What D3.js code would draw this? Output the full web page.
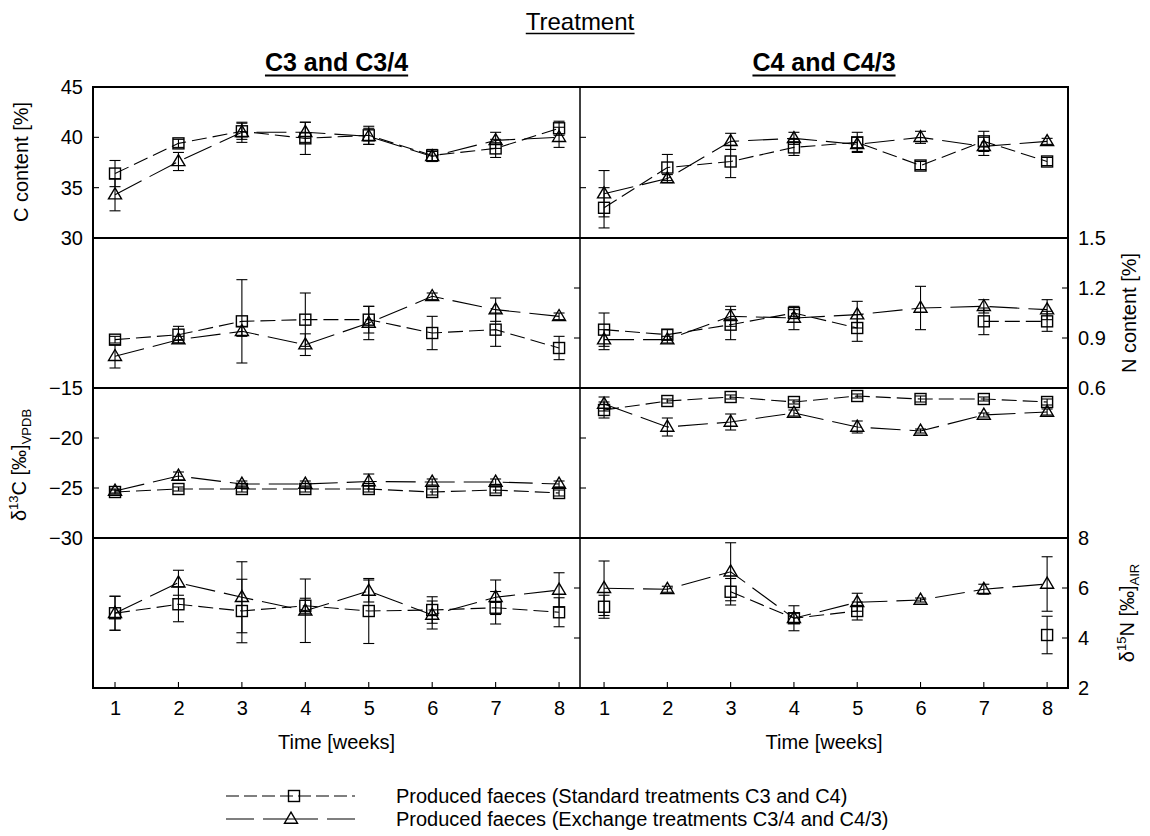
<!DOCTYPE html>
<html><head><meta charset="utf-8">
<script src="https://cdn.jsdelivr.net/npm/d3@7"></script>
<style>
html,body{margin:0;padding:0;background:#fff;}
svg{display:block;font-family:"Liberation Sans",Arial,sans-serif;}
</style></head>
<body><svg id="chart" width="1150" height="836"></svg>
<script>
// ---------- DATA ----------
const weeks = [1,2,3,4,5,6,7,8];
const xTicks = [1,2,3,4,5,6,7,8];

// C content [%]
const cStdC3 = [36.4, 39.4, 40.6, 39.9, 40.2, 38.2, 38.9, 40.9];
const cStdC3Err = [1.3, 0.4, 0.8, 1.6, 0.9, 0.6, 0.9, 0.7];
const cExC3 = [34.3, 37.6, 40.5, 40.5, 40.1, 38.1, 39.7, 40.0];
const cExC3Err = [1.6, 0.9, 1.0, 1.0, 0.8, 0.5, 0.8, 1.0];
const cStdC4 = [33.0, 37.0, 37.6, 39.0, 39.5, 37.2, 39.6, 37.6];
const cStdC4Err = [2.0, 1.3, 1.6, 0.8, 1.0, 0.4, 1.0, 0.4];
const cExC4 = [34.4, 35.9, 39.6, 39.9, 39.3, 40.0, 39.1, 39.6];
const cExC4Err = [2.3, 0.4, 0.8, 0.6, 0.7, 0.6, 0.9, 0.3];

// N content [%]
const nStdC3 = [0.89, 0.92, 1.00, 1.01, 1.01, 0.93, 0.95, 0.84];
const nStdC3Err = [0.02, 0.05, 0.25, 0.16, 0.08, 0.10, 0.10, 0.07];
const nExC3 = [0.79, 0.89, 0.94, 0.86, 0.99, 1.15, 1.07, 1.03];
const nExC3Err = [0.07, 0.02, 0.03, 0.065, 0.10, 0.02, 0.07, 0.02];
const nStdC4 = [0.95, 0.92, 0.98, 1.05, 0.96, null, 1.00, 1.00];
const nStdC4Err = [0.10, 0.03, 0.09, 0.02, 0.08, null, 0.08, 0.06];
const nExC4 = [0.89, 0.89, 1.03, 1.02, 1.04, 1.08, 1.09, 1.07];
const nExC4Err = [0.06, 0.02, 0.06, 0.07, 0.08, 0.13, 0.04, 0.06];

// δ13C [‰] VPDB
const d13StdC3 = [-25.4, -25.1, -25.1, -25.1, -25.1, -25.4, -25.2, -25.5];
const d13StdC3Err = [0.2, 0.2, 0.3, 0.3, 0.3, 0.3, 0.3, 0.3];
const d13ExC3 = [-25.3, -23.8, -24.6, -24.6, -24.35, -24.4, -24.4, -24.6];
const d13ExC3Err = [0.2, 0.4, 0.3, 0.3, 0.75, 0.3, 0.3, 0.3];
const d13StdC4 = [-17.2, -16.3, -15.9, -16.4, -15.8, -16.1, -16.1, -16.4];
const d13StdC4Err = [0.8, 0.2, 0.2, 0.2, 0.2, 0.3, 0.2, 0.3];
const d13ExC4 = [-16.6, -18.9, -18.4, -17.5, -18.9, -19.3, -17.7, -17.4];
const d13ExC4Err = [0.7, 0.9, 0.8, 0.3, 0.6, 0.2, 0.2, 0.3];

// δ15N [‰] AIR
const d15StdC3 = [4.99, 5.35, 5.08, 5.29, 5.08, 5.12, 5.21, 5.03];
const d15StdC3Err = [0.68, 0.70, 1.27, 0.3, 1.3, 0.53, 0.65, 0.58];
const d15ExC3 = [4.99, 6.21, 5.63, 5.09, 5.88, 4.92, 5.63, 5.92];
const d15ExC3Err = [0.68, 0.5, 1.42, 1.27, 0.44, 0.56, 0.69, 0.69];
const d15StdC4 = [5.25, null, 5.85, 4.79, 5.08, null, null, 4.12];
const d15StdC4Err = [0.46, null, 0.53, 0.2, 0.36, null, null, 0.75];
const d15ExC4 = [5.99, 5.95, 6.65, 4.79, 5.43, 5.52, 5.95, 6.16];
const d15ExC4Err = [1.09, 0.12, 1.16, 0.5, 0.36, 0.08, 0.2, 1.09];

// tick labels
const cTicks = [30, 35, 40, 45];
const nTicks = [0.6, 0.9, 1.2, 1.5];
const d13Ticks = [-30, -25, -20, -15];
const d15Ticks = [2, 4, 6, 8];

const panelTitles = ["C3 and C3/4", "C4 and C4/3"];
const legendLabels = ["Produced faeces (Standard treatments C3 and C4)",
                      "Produced faeces (Exchange treatments C3/4 and C4/3)"];

// ---------- LAYOUT ----------
const svg = d3.select("#chart");
const L = 93, M = 580, R = 1068;
const rowTops = [87, 238, 388, 538, 688];
const font = "'Liberation Sans', Arial, sans-serif";
const tickFs = 20, titleFs = 20;

const xLeft = d3.scaleLinear().domain([0.653, 8.33]).range([L, M]);
const xRight = d3.scaleLinear().domain([0.62, 8.33]).range([M, R]);

const rows = [
  {domain:[30,45], ticks:cTicks, side:"left", fmt:d3.format("d"),
   data:[[cStdC3,cStdC3Err,cExC3,cExC3Err],[cStdC4,cStdC4Err,cExC4,cExC4Err]]},
  {domain:[0.6,1.5], ticks:nTicks, side:"right", fmt:d3.format(".1f"),
   data:[[nStdC3,nStdC3Err,nExC3,nExC3Err],[nStdC4,nStdC4Err,nExC4,nExC4Err]]},
  {domain:[-30,-15], ticks:d13Ticks, side:"left", fmt:d3.format("d"),
   data:[[d13StdC3,d13StdC3Err,d13ExC3,d13ExC3Err],[d13StdC4,d13StdC4Err,d13ExC4,d13ExC4Err]]},
  {domain:[2,8], ticks:d15Ticks, side:"right", fmt:d3.format("d"),
   data:[[d15StdC3,d15StdC3Err,d15ExC3,d15ExC3Err],[d15StdC4,d15StdC4Err,d15ExC4,d15ExC4Err]]}
];

const stdDash = "15,6";
const exDash = "30,9";

function drawSquare(g, x, y) {
  g.append("rect").attr("x", x-5.5).attr("y", y-5.5).attr("width", 11).attr("height", 11)
    .attr("fill","none").attr("stroke","#000").attr("stroke-width",1.4);
}
function drawTriangle(g, x, y) {
  const h = 11, w = 13;
  g.append("path").attr("d", `M${x},${y-h*0.62}L${x+w/2},${y+h*0.38}L${x-w/2},${y+h*0.38}Z`)
    .attr("fill","none").attr("stroke","#000").attr("stroke-width",1.4);
}

rows.forEach((row, ri) => {
  const y0 = rowTops[ri], y1 = rowTops[ri+1];
  const y = d3.scaleLinear().domain(row.domain).range([y1, y0]);
  [xLeft, xRight].forEach((x, pi) => {
    const g = svg.append("g");
    const [sm, se, em, ee] = row.data[pi];
    const series = [
      {m: sm, e: se, dash: stdDash, marker: drawSquare},
      {m: em, e: ee, dash: exDash, marker: drawTriangle}
    ];
    series.forEach(s => {
      const pts = weeks.map((w, i) => ({w, v: s.m[i], e: s.e[i]}));
      const line = d3.line().defined(d => d.v !== null).x(d => x(d.w)).y(d => y(d.v));
      g.append("path").datum(pts).attr("d", line).attr("fill","none")
        .attr("stroke","#000").attr("stroke-width",1.1).attr("stroke-dasharray", s.dash);
      pts.filter(d => d.v !== null).forEach(d => {
        const cx = x(d.w), top = y(d.v + d.e), bot = y(d.v - d.e);
        g.append("line").attr("x1",cx).attr("x2",cx).attr("y1",top).attr("y2",bot)
          .attr("stroke","#000").attr("stroke-width",1.1);
        [top, bot].forEach(yy => g.append("line").attr("x1",cx-5.5).attr("x2",cx+5.5)
          .attr("y1",yy).attr("y2",yy).attr("stroke","#000").attr("stroke-width",1.1));
        s.marker(g, cx, y(d.v));
      });
    });
    // inner ticks
    const innerTicks = row.ticks.filter(t => t !== row.domain[0] && t !== row.domain[1]);
    const edge = row.side === "left" ? (pi === 0 ? L : M) : (pi === 0 ? M : R);
    const dir = row.side === "left" ? 1 : -1;
    innerTicks.forEach(t => {
      g.append("line").attr("x1", edge).attr("x2", edge + dir*6)
        .attr("y1", y(t)).attr("y2", y(t)).attr("stroke","#000").attr("stroke-width",1.1);
    });
  });
  // outer axis labels via d3 axis
  const axisG = svg.append("g")
    .attr("transform", `translate(${row.side === "left" ? L : R},0)`)
    .call((row.side === "left" ? d3.axisLeft(y) : d3.axisRight(y))
      .tickValues(row.ticks).tickFormat(row.fmt).tickSize(0).tickPadding(10));
  axisG.select(".domain").remove();
  axisG.selectAll("text").attr("font-size", tickFs).attr("font-family", font).attr("fill","#000");
});

// bottom x axes
[xLeft, xRight].forEach((x, pi) => {
  const ag = svg.append("g").attr("transform", `translate(0,${rowTops[4]})`)
    .call(d3.axisBottom(x).tickValues(xTicks).tickFormat(d3.format("d")).tickSize(0).tickPadding(13));
  ag.select(".domain").remove();
  ag.selectAll("text").attr("font-size", tickFs).attr("font-family", font).attr("fill","#000");
  xTicks.forEach(t => svg.append("line").attr("x1", x(t)).attr("x2", x(t))
    .attr("y1", rowTops[4]).attr("y2", rowTops[4]-6).attr("stroke","#000").attr("stroke-width",1.1));
  const cx = (x.range()[0] + x.range()[1]) / 2;
  svg.append("text").attr("x", cx).attr("y", 749).attr("text-anchor","middle")
    .attr("font-size", titleFs).attr("font-family", font).text("Time [weeks]");
  // panel titles
  const t = svg.append("text").attr("x", cx).attr("y", 71).attr("text-anchor","middle")
    .attr("font-size", 25).attr("font-weight","bold").attr("font-family", font)
    .text(panelTitles[pi]);
  const bb = t.node().getBBox();
  svg.append("line").attr("x1", bb.x).attr("x2", bb.x + bb.width).attr("y1", 75.5).attr("y2", 75.5)
    .attr("stroke","#000").attr("stroke-width",2.2);
});

// frame lines
svg.append("rect").attr("x", L).attr("y", rowTops[0]).attr("width", R-L).attr("height", rowTops[4]-rowTops[0])
  .attr("fill","none").attr("stroke","#000").attr("stroke-width",2);
rowTops.slice(1,4).forEach(yy => svg.append("line").attr("x1", L).attr("x2", R)
  .attr("y1", yy).attr("y2", yy).attr("stroke","#000").attr("stroke-width",2));
svg.append("line").attr("x1", M).attr("x2", M).attr("y1", rowTops[0]).attr("y2", rowTops[4])
  .attr("stroke","#000").attr("stroke-width",1.5);

// Treatment title
const tt = svg.append("text").attr("x", M).attr("y", 30).attr("text-anchor","middle")
  .attr("font-size", 24).attr("font-family", font).text("Treatment");
const tb = tt.node().getBBox();
svg.append("line").attr("x1", tb.x).attr("x2", tb.x+tb.width).attr("y1", 33.5).attr("y2", 33.5)
  .attr("stroke","#000").attr("stroke-width",1.5);

// Y axis titles
function yTitle(x, yc, parts) {
  const t = svg.append("text").attr("transform", `translate(${x},${yc}) rotate(-90)`)
    .attr("text-anchor","middle").attr("font-size", titleFs).attr("font-family", font);
  parts.forEach(p => {
    const ts = t.append("tspan").text(p.t);
    if (p.sup) ts.attr("font-size", 13).attr("dy", -8);
    if (p.sub) ts.attr("font-size", 13).attr("dy", p.dy);
    if (p.reset) ts.attr("dy", p.reset);
  });
}
yTitle(28, 162, [{t:"C content [%]"}]);
yTitle(26, 465, [{t:"δ"},{t:"13",sup:true},{t:"C [‰]",reset:8},{t:"VPDB",sub:true,dy:5}]);
yTitle(1136, 313, [{t:"N content [%]"}]);
yTitle(1134, 613, [{t:"δ"},{t:"15",sup:true},{t:"N [‰]",reset:8},{t:"AIR",sub:true,dy:5}]);

// Legend
const lg = svg.append("g");
[0,1].forEach(i => {
  const yy = 796 + i*23;
  lg.append("line").attr("x1", 226).attr("x2", 355).attr("y1", yy).attr("y2", yy)
    .attr("stroke","#000").attr("stroke-width",1.1)
    .attr("stroke-dasharray", i === 0 ? "13,5" : "28,9,55,9,28");
  if (i === 0) drawSquare(lg, 294, yy); else drawTriangle(lg, 291, yy);
  lg.append("text").attr("x", 396).attr("y", yy + 7).attr("font-size", 20)
    .attr("font-family", font).text(legendLabels[i]);
});
</script></body></html>
